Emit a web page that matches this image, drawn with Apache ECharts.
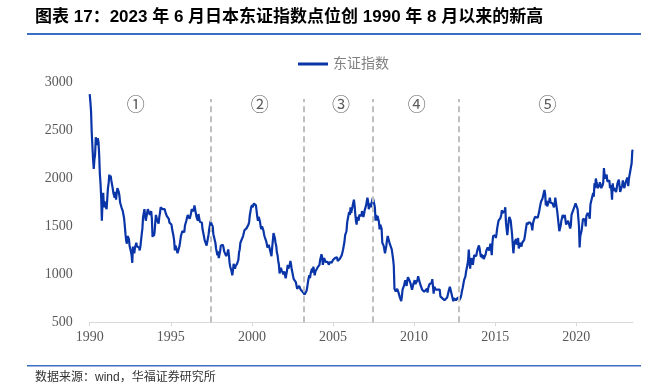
<!DOCTYPE html>
<html>
<head>
<meta charset="utf-8">
<script src="https://cdn.jsdelivr.net/npm/echarts@6/dist/echarts.min.js"></script>
<style>
html,body{margin:0;padding:0;background:#fff;}
#chart{width:665px;height:389px;}
</style>
</head>
<body>
<div id="chart"></div>
<script>
const titleText = '图表 17：2023 年 6 月日本东证指数点位创 1990 年 8 月以来的新高';
const sourceText = '数据来源：wind，华福证券研究所';
const seriesName = '东证指数';
const startYear = 1990;
const pointsPerYear = 24; // readings at the start and middle of each month
const topix1990 = [2881,2800,2700,2480,2500,2200,2100,2200,2250,2430,2400,2350,2420,2380,2250,2050,1950,1800,1560,1760,1850,1700,1760,1720];
const topix1991 = [1730,1680,1790,1900,1950,2040,2000,2030,1980,1960,1900,1850,1830,1800,1860,1780,1850,1900,1880,1860,1820,1750,1770,1700];
const topix1992 = [1714,1660,1620,1580,1500,1420,1350,1320,1400,1420,1370,1300,1280,1240,1200,1120,1290,1250,1220,1280,1270,1330,1290,1310];
const topix1993 = [1307,1280,1250,1290,1310,1420,1480,1600,1620,1680,1610,1560,1600,1640,1680,1700,1680,1620,1640,1660,1580,1390,1440,1400];
const topix1994 = [1439,1540,1620,1600,1560,1580,1530,1600,1640,1700,1690,1720,1680,1660,1660,1680,1650,1630,1610,1600,1620,1580,1540,1560];
const topix1995 = [1559,1520,1470,1450,1400,1350,1250,1300,1290,1250,1220,1200,1230,1300,1320,1400,1400,1450,1460,1430,1440,1510,1530,1560];
const topix1996 = [1577,1620,1610,1600,1580,1610,1640,1680,1670,1700,1660,1720,1700,1640,1600,1580,1560,1630,1590,1550,1530,1560,1540,1470];
const topix1997 = [1470,1400,1360,1380,1370,1300,1320,1380,1420,1480,1500,1560,1530,1540,1500,1420,1390,1360,1330,1270,1250,1200,1240,1170];
const topix1998 = [1175,1240,1300,1290,1290,1310,1280,1240,1250,1220,1190,1170,1230,1260,1200,1120,1080,1060,1030,990,1040,1110,1100,1060];
const topix1999 = [1087,1090,1110,1120,1150,1230,1260,1330,1350,1330,1330,1400,1420,1460,1450,1440,1480,1500,1480,1520,1550,1620,1640,1700];
const topix2000 = [1722,1700,1680,1740,1720,1760,1720,1660,1600,1560,1600,1580,1550,1500,1470,1500,1490,1460,1420,1390,1400,1350,1320,1280];
const topix2001 = [1283,1310,1300,1250,1220,1190,1280,1350,1430,1440,1380,1330,1300,1230,1200,1140,1100,1010,1000,1070,1040,1060,1040,1000];
const topix2002 = [1032,990,960,950,1040,1100,1060,1080,1100,1140,1100,1050,1020,980,950,970,950,920,900,850,860,840,880,860];
const topix2003 = [843,860,830,820,840,800,790,775,800,830,870,920,960,990,960,1010,1030,1060,1020,1080,1060,990,1030,1040];
const topix2004 = [1044,1070,1060,1050,1100,1150,1180,1210,1180,1100,1110,1170,1180,1130,1120,1110,1130,1110,1100,1130,1120,1110,1120,1140];
const topix2005 = [1150,1140,1150,1170,1180,1190,1180,1140,1130,1150,1160,1180,1170,1200,1200,1260,1280,1340,1410,1420,1450,1540,1580,1620];
const topix2006 = [1650,1620,1700,1640,1680,1710,1730,1780,1720,1630,1560,1520,1600,1580,1560,1620,1640,1640,1610,1660,1660,1600,1630,1670];
const topix2007 = [1680,1720,1710,1800,1760,1680,1710,1740,1700,1740,1770,1800,1770,1790,1700,1560,1620,1560,1610,1620,1550,1470,1520,1500];
const topix2008 = [1475,1330,1350,1300,1300,1220,1240,1300,1360,1400,1410,1380,1320,1300,1300,1260,1250,1160,1090,850,870,820,810,850];
const topix2009 = [860,810,790,760,740,720,770,840,840,880,900,940,930,880,940,970,960,940,920,900,900,840,850,900];
const topix2010 = [907,940,900,880,890,940,980,990,980,900,880,890,840,850,860,820,810,830,830,850,810,860,870,900];
const topix2011 = [900,920,910,950,950,800,870,850,840,830,820,840,850,860,840,770,770,760,750,770,770,730,730,730];
const topix2012 = [729,760,760,820,840,870,850,810,800,750,720,750,770,740,730,750,740,760,740,730,740,760,790,830];
const topix2013 = [860,900,940,960,980,1030,1040,1100,1150,1260,1130,1060,1140,1170,1130,1100,1110,1200,1190,1180,1190,1230,1260,1270];
const topix2014 = [1302,1270,1220,1180,1210,1170,1200,1160,1160,1180,1210,1250,1260,1280,1290,1250,1280,1320,1320,1200,1330,1400,1410,1380];
const topix2015 = [1408,1380,1420,1480,1520,1560,1540,1580,1590,1620,1670,1640,1630,1620,1660,1700,1540,1470,1410,1480,1560,1600,1580,1560];
const topix2016 = [1547,1420,1430,1220,1300,1340,1350,1370,1310,1330,1380,1270,1250,1330,1320,1290,1330,1320,1330,1360,1400,1450,1470,1540];
const topix2017 = [1519,1540,1520,1550,1540,1560,1510,1460,1530,1560,1570,1600,1610,1620,1620,1590,1610,1650,1670,1730,1760,1770,1790,1820];
const topix2018 = [1817,1880,1840,1720,1770,1710,1720,1730,1770,1800,1750,1770,1730,1740,1760,1700,1730,1800,1820,1700,1650,1660,1660,1450];
const topix2019 = [1450,1510,1560,1580,1620,1600,1590,1620,1620,1520,1520,1540,1560,1570,1560,1480,1510,1620,1620,1660,1670,1700,1700,1740];
const topix2020 = [1721,1740,1680,1690,1510,1280,1400,1430,1460,1520,1580,1600,1560,1570,1500,1610,1620,1640,1630,1610,1580,1730,1760,1790];
const topix2021 = [1805,1850,1810,1950,1900,2000,1960,1950,1900,1920,1930,1960,1940,1900,1900,1930,1960,2110,2030,2000,2010,2040,1970,1990];
const topix2022 = [1992,1980,1900,1930,1880,1780,1950,1870,1900,1880,1910,1860,1870,1950,1940,1990,1970,1860,1840,1860,1930,1980,1990,1900];
const topix2023 = [1892,1900,1980,1990,2010,1920,2000,2040,2050,2120,2160,2290,2300];
const phaseBreaks = [1997.45, 2003.2, 2007.48, 2012.78];
const phaseLabels = ['①', '②', '③', '④', '⑤'];
const phaseLabelYears = [1992.84, 2000.49, 2005.5, 2010.16, 2018.23];
const phaseLabelLevel = 2775;
const phaseLineTop = 2830;
const xTicks = [1990, 1995, 2000, 2005, 2010, 2015, 2020];
const yMin = 500, yMax = 3000, yStep = 500;
const xMax = 2023.5;

const allValues = [].concat(topix1990, topix1991, topix1992, topix1993, topix1994, topix1995,
  topix1996, topix1997, topix1998, topix1999, topix2000, topix2001, topix2002, topix2003,
  topix2004, topix2005, topix2006, topix2007, topix2008, topix2009, topix2010, topix2011,
  topix2012, topix2013, topix2014, topix2015, topix2016, topix2017, topix2018, topix2019,
  topix2020, topix2021, topix2022, topix2023);
const lineData = allValues.map((v, i) => [startYear + i / pointsPerYear, v]);

const chart = echarts.init(document.getElementById('chart'), null, {renderer: 'canvas'});
const serif = '"Liberation Serif","Times New Roman",serif';
const cjk = '"Liberation Sans","Noto Sans CJK SC",sans-serif';

chart.setOption({
  animation: false,
  backgroundColor: '#fff',
  graphic: [
    {type: 'text', left: 35, top: 9, style: {text: titleText, font: 'bold 17px ' + cjk, fill: '#000'}},
    {type: 'rect', shape: {x: 27, y: 33, width: 614, height: 2}, style: {fill: '#3a6fc4'}},
    {type: 'rect', shape: {x: 27, y: 365, width: 614, height: 1.5}, style: {fill: '#3a6fc4'}},
    {type: 'text', left: 35, top: 372, style: {text: sourceText, font: '12px ' + cjk, fill: '#333'}}
  ],
  legend: {
    data: [seriesName],
    left: 293, top: 52,
    icon: 'rect', itemWidth: 30, itemHeight: 3, itemGap: 5,
    textStyle: {color: '#7f7f7f', fontSize: 14, fontFamily: cjk}
  },
  grid: {left: 89.7, right: 32, top: 82.7, bottom: 66.7, containLabel: false},
  xAxis: {
    type: 'value', min: startYear, max: xMax, interval: 5,
    axisLine: {show: true, lineStyle: {color: '#d9d9d9', width: 1}},
    axisTick: {show: true, length: 4, lineStyle: {color: '#d9d9d9'}, customValues: xTicks},
    axisLabel: {color: '#595959', fontSize: 14, fontFamily: serif, margin: 8, customValues: xTicks,
      formatter: v => String(Math.round(v))},
    splitLine: {show: false}
  },
  yAxis: {
    type: 'value', min: yMin, max: yMax, interval: yStep,
    axisLine: {show: false}, axisTick: {show: false},
    axisLabel: {color: '#595959', fontSize: 14, fontFamily: serif, margin: 17, formatter: v => String(v)},
    splitLine: {show: false}
  },
  series: [
    {
      name: seriesName, type: 'line', data: lineData, showSymbol: false, symbol: 'none',
      lineStyle: {color: '#0a35a8', width: 2.2}, itemStyle: {color: '#0a35a8'},
      markLine: {
        silent: true, symbol: 'none', label: {show: false},
        lineStyle: {color: '#bfbfbf', type: [6, 4], width: 2},
        data: phaseBreaks.map(x => [{coord: [x, yMin]}, {coord: [x, phaseLineTop]}])
      }
    },
    {
      name: 'phase', type: 'scatter', symbolSize: 0, silent: true,
      data: phaseLabelYears.map((x, i) => [x, phaseLabelLevel, phaseLabels[i]]),
      label: {show: true, position: 'inside', formatter: p => p.data[2],
        color: '#333', fontSize: 18, fontFamily: '"Noto Sans CJK SC","DejaVu Sans",sans-serif'}
    }
  ]
});
</script>
</body>
</html>
